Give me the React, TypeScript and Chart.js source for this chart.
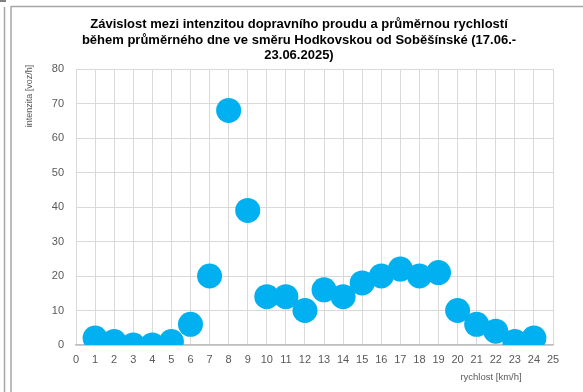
import React, { useEffect, useRef } from "react";
import { Chart, registerables } from "chart.js";

Chart.register(...registerables);

const speeds = [1, 2, 3, 4, 5, 6, 7, 8, 9, 10, 11, 12, 13, 14, 15, 16, 17, 18, 19, 20, 21, 22, 23, 24];
const intensity = [2, 1, 0, 0, 1, 6, 20, 68, 39, 14, 14, 10, 16, 14, 18, 20, 22, 20, 21, 10, 6, 4, 1, 2];
const titleLines = [
  "Závislost mezi intenzitou dopravního proudu a průměrnou rychlostí",
  "během průměrného dne ve směru Hodkovskou od Soběšínské (17.06.-",
  "23.06.2025)",
];
const yTitle = "intenzita [voz/h]";
const xTitle = "rychlost [km/h]";

const FONT = "'Liberation Sans', Arial, sans-serif";

const decorPlugin = {
  id: "decor",
  beforeDraw(chart: any) {
    const ctx = chart.ctx as CanvasRenderingContext2D;
    ctx.save();
    ctx.fillStyle = "#ffffff";
    ctx.fillRect(0, 0, chart.width, chart.height);
    ctx.strokeStyle = "#a6a6a6";
    ctx.lineWidth = 1.5;
    ctx.beginPath();
    ctx.moveTo(4.5, 7);
    ctx.lineTo(4.5, chart.height);
    ctx.moveTo(11, 6);
    ctx.lineTo(11, chart.height);
    ctx.moveTo(11, 6.5);
    ctx.lineTo(chart.width, 6.5);
    ctx.stroke();
    ctx.fillStyle = "#7f7f7f";
    ctx.fillRect(0, 0, 6, 2);
    ctx.restore();
  },
  afterDraw(chart: any) {
    const ctx = chart.ctx as CanvasRenderingContext2D;
    ctx.save();
    ctx.fillStyle = "#000000";
    ctx.font = `bold 13px ${FONT}`;
    ctx.textAlign = "center";
    ctx.textBaseline = "alphabetic";
    const baselines = [28, 44, 59];
    titleLines.forEach((t, i) => ctx.fillText(t, 299, baselines[i]));
    ctx.fillStyle = "#595959";
    ctx.font = `9.5px ${FONT}`;
    ctx.textBaseline = "middle";
    ctx.fillText(xTitle, 491, 377);
    ctx.translate(30, 96);
    ctx.rotate(-Math.PI / 2);
    ctx.font = `9px ${FONT}`;
    ctx.fillText(yTitle, 0, 0);
    ctx.restore();
  },
};

export default function App() {
  const ref = useRef<HTMLCanvasElement | null>(null);
  useEffect(() => {
    if (!ref.current) return;
    const chart = new Chart(ref.current, {
      type: "scatter",
      data: {
        datasets: [
          {
            data: speeds.map((s, i) => ({ x: s, y: intensity[i] })),
            backgroundColor: "#00b0f0",
            borderColor: "#00b0f0",
            borderWidth: 0,
            pointRadius: 12.5,
            pointHoverRadius: 12.5,
            clip: 0,
          },
        ],
      },
      options: {
        responsive: false,
        animation: false,
        events: [],
        layout: { padding: { left: 0, top: 69, right: 30, bottom: 0 } },
        plugins: {
          legend: { display: false },
          title: { display: false },
          tooltip: { enabled: false },
        },
        scales: {
          x: {
            type: "linear",
            min: 0,
            max: 25,
            afterFit: (s: any) => {
              s.height = 47;
            },
            ticks: {
              stepSize: 1,
              autoSkip: false,
              maxRotation: 0,
              padding: 8,
              color: "#595959",
              font: { family: FONT, size: 11 },
            },
            grid: { color: "#d9d9d9", drawTicks: false, lineWidth: 1 },
            border: { color: "#bfbfbf", width: 1.5 },
          },
          y: {
            type: "linear",
            min: 0,
            max: 80,
            afterFit: (s: any) => {
              s.width = 76;
            },
            ticks: {
              stepSize: 10,
              padding: 12,
              color: "#595959",
              font: { family: FONT, size: 11 },
            },
            grid: { color: "#d9d9d9", drawTicks: false, lineWidth: 1 },
            border: { display: false },
          },
        },
      },
      plugins: [decorPlugin],
    });
    return () => chart.destroy();
  }, []);
  return (
    <div style={{ position: "absolute", left: 0, top: 0, width: 583, height: 392 }}>
      <canvas ref={ref} width={583} height={392} style={{ width: 583, height: 392, display: "block" }} />
    </div>
  );
}
